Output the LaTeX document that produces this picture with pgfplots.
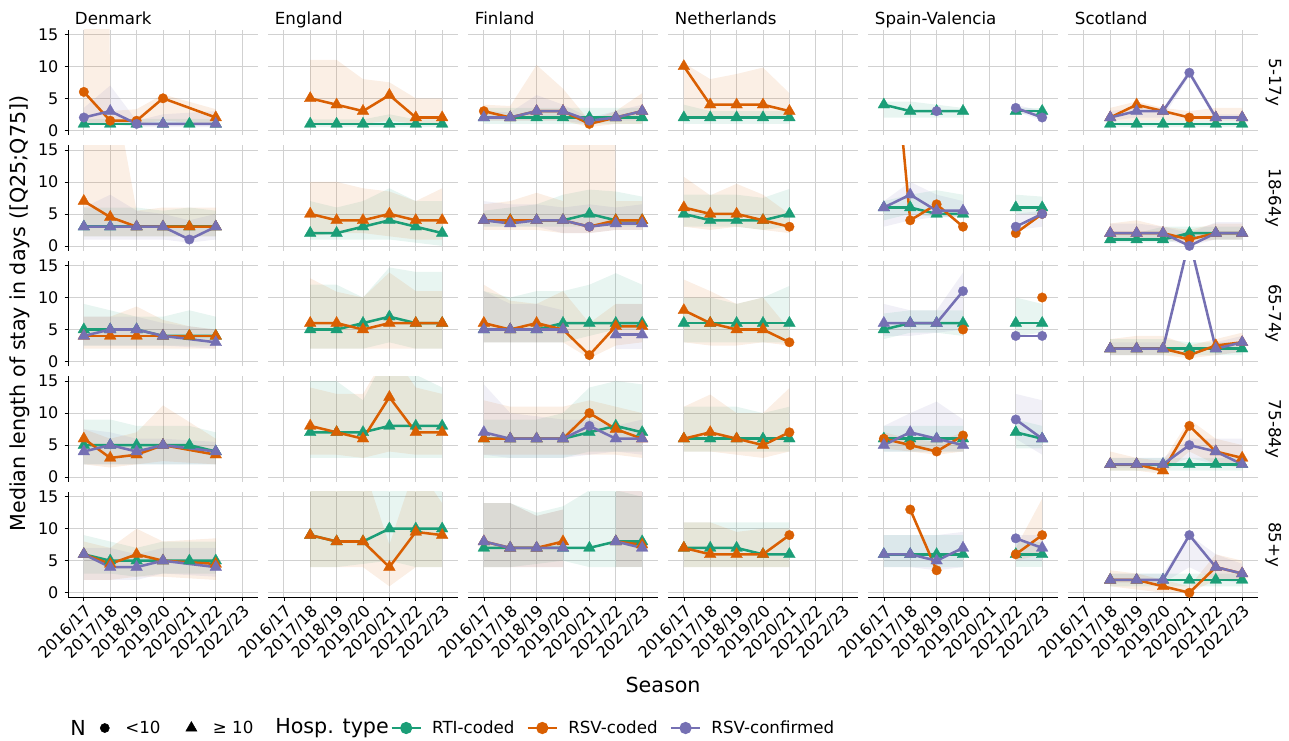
\documentclass[border=0pt]{standalone}
\usepackage{fontspec}
\setmainfont{DejaVu Sans}
\usepackage{pgfplots}
\pgfplotsset{compat=1.18}
\definecolor{rti}{HTML}{1B9E77}
\definecolor{rsv}{HTML}{D95F02}
\definecolor{cnf}{HTML}{7570B3}
\definecolor{gridc}{gray}{0.82}
\newcommand\fsTick{\fontsize{12}{14}\selectfont}
\newcommand\fsStrip{\fontsize{12.5}{14}\selectfont}
\newcommand\fsTitle{\fontsize{15.5}{18}\selectfont}
\newcommand\fsLeg{\fontsize{12.5}{14}\selectfont}
\pgfplotsset{
 every axis title shift=0pt,
 ser/.style={color=#1, line width=1.9pt, line join=round, mark=*, forget plot,
   mark options={solid, line width=0.2pt}, scatter, scatter src=explicit symbolic,
   scatter/classes={c={mark=*, mark size=3.6pt, draw=#1, fill=#1}, t={mark=triangle*, mark size=5.1pt, draw=#1, fill=#1}}},
 panel/.style 2 args={at={(#1pt,#2pt)}, anchor=north west, scale only axis, width=142.5pt, height=79.2pt,
   xmin=0.4, xmax=7.6, ymin=-0.75, ymax=15.75, xtick={1,...,7}, ytick={0,5,10,15},
   xticklabels={}, yticklabels={}, grid=major, major grid style={draw=gridc, line width=0.6pt},
   axis x line*=bottom, axis y line*=left, axis line style={draw=none,-}, tick style={draw=none},
   tick align=outside, major tick length=2.5pt,
   title style={anchor=base west, at={(0,1)}, xshift=5pt, yshift=3.75pt, font=\fsStrip, inner sep=0pt}},
 lft/.style={y axis line style={draw=black, line width=0.5pt}, ytick style={draw=black, line width=0.5pt},
   yticklabels={0,5,10,15}, yticklabel style={font=\fsTick, inner sep=4.5pt}},
 bot/.style={x axis line style={draw=black, line width=0.5pt}, xtick style={draw=black, line width=0.5pt},
   xticklabels={2016/17,2017/18,2018/19,2019/20,2020/21,2021/22,2022/23},
   xticklabel style={font=\fsTick, rotate=45, anchor=north east, inner sep=1.5pt}},
 lkey/.style={color=#1, line width=1.9pt, legend image code/.code={\draw[##1] (0pt,0pt) -- (22pt,0pt); \fill[#1] (11pt,0pt) circle (3.6pt);}},
 legax/.style={anchor=west, hide axis, scale only axis, width=1pt, height=1pt, xmin=0, xmax=1, ymin=0, ymax=1, legend cell align=left},
}
\makeatletter
\gdef\sPend{}
% #1 colour, #2 list x/median/q25/q75/marker
\newcommand\Ser[2]{%
 \gdef\sFw{}\gdef\sBw{}\gdef\sLn{}%
 \foreach \xa/\ya/\la/\ha/\ma in {#2}{\xdef\sFw{\sFw(\xa,\ha)}\xdef\sBw{(\xa,\la)\sBw}\xdef\sLn{\sLn(\xa,\ya)[\ma]}}%
 \edef\sTmp{\noexpand\addplot[fill=#1, fill opacity=0.1, draw=none, forget plot] coordinates {\sFw\sBw};}\sTmp
 \edef\sTmpb{\noexpand\addplot[ser=#1] coordinates {\sLn};}%
 \expandafter\g@addto@macro\expandafter\sPend\expandafter{\sTmpb}%
}
\newcommand\Flush{\sPend\gdef\sPend{}}
\makeatother
\begin{document}
\begin{tikzpicture}
\useasboundingbox (0,0) rectangle (966.75pt,-555pt);
% ================= Row 1: 5-17y
\begin{axis}[panel={51}{-22.125}, lft, title=Denmark]
\Ser{rti}{1/1/0.8/1.8/t, 2/1/0.8/1.8/t, 3/1/0.8/1.8/t, 4/1/0.8/1.8/t, 5/1/0.8/1.8/t, 6/1/0.8/1.8/t}
\Ser{rsv}{1/6/1/500/c, 2/1.5/1/3/c, 3/1.5/1/3.3/c, 4/5/1.5/5.6/c, 6/2/1/3.3/t}
\Ser{cnf}{1/2/1/3.5/c, 2/3/1/7/t, 3/1/0.5/1.5/c, 4/1/0.5/2.5/t, 6/1/0.5/3/t}
\Flush
\end{axis}
\begin{axis}[panel={201}{-22.125}, title=England]
\Ser{rti}{2/1/0.5/1.7/t, 3/1/0.5/1.7/t, 4/1/0.5/1.7/t, 5/1/0.5/2.5/t, 6/1/0.5/1.7/t, 7/1/0.5/1.7/t}
\Ser{rsv}{2/5/1/11/t, 3/4/1/11/t, 4/3/1/8/t, 5/5.5/1.5/7.5/t, 6/2/1/5/t, 7/2/1/5/t}
\Flush
\end{axis}
\begin{axis}[panel={351}{-22.125}, title=Finland]
\Ser{rti}{1/2/1/3.5/t, 2/2/1/3.5/t, 3/2/1/3.5/t, 4/2/1/3.5/t, 5/2/1/3.5/t, 6/2/1/3.5/t, 7/2/1/3.5/t}
\Ser{rsv}{1/3/1.5/4/c, 2/2/1.5/3.8/t, 3/3/1.5/10.2/t, 4/3/1.5/6.5/t, 5/1/0.5/1.5/c, 6/2/1/3/t, 7/3/1/5.8/t}
\Ser{cnf}{1/2/1.5/3/t, 2/2/1.5/2.8/t, 3/3/1.5/5.5/t, 4/3/1.5/4/t, 5/1.5/1/2/c, 6/2/1.5/3/t, 7/3/1.5/4/t}
\Flush
\end{axis}
\begin{axis}[panel={501}{-22.125}, title=Netherlands]
\Ser{rti}{1/2/1/4/t, 2/2/1/3/t, 3/2/1/3/t, 4/2/1/3/t, 5/2/1/3/t}
\Ser{rsv}{1/10/2/10.5/t, 2/4/2/8/t, 3/4/2/8.8/t, 4/4/2/9.8/t, 5/3/2/5.8/t}
\Flush
\end{axis}
\begin{axis}[panel={651}{-22.125}, title=Spain-Valencia]
\Ser{rti}{1/4/2/4.5/t, 2/3/2/4.5/t, 3/3/2/4/t, 4/3/2/3.5/t}
\Ser{rti}{6/3/2.5/3.5/t, 7/3/2.5/3.5/t}
\Ser{cnf}{3/3/3/3/c}
\Ser{cnf}{6/3.5/3/4/c, 7/2/1.5/3/c}
\Flush
\end{axis}
\begin{axis}[panel={801}{-22.125}, title=Scotland]
\Ser{rti}{2/1/0.5/1.5/t, 3/1/0.5/1.5/t, 4/1/0.5/1.5/t, 5/1/0.5/1.5/t, 6/1/0.5/1.5/t, 7/1/0.5/1.5/t}
\Ser{rsv}{2/2/1.5/3.5/t, 3/4/1.5/4.5/t, 4/3/1.5/3.5/t, 5/2/1.5/3/c, 6/2/1.5/3.5/t, 7/2/1.5/3.5/t}
\Ser{cnf}{2/2/1.5/3/t, 3/3/2/3.5/t, 4/3/2/3.5/t, 5/9/8.5/9.5/c, 6/2/1.5/2.5/t, 7/2/1.5/2.5/t}
\Flush
\end{axis}
% ================= Row 2: 18-64y
\begin{axis}[panel={51}{-108.825}, lft]
\Ser{rti}{1/3/1.5/6/t, 2/3/1.5/6/t, 3/3/1.5/6/t, 4/3/1.5/5.5/t, 5/3/1.5/6/t, 6/3/1.5/5.5/t}
\Ser{rsv}{1/7/1.5/500/t, 2/4.5/1.5/28/t, 3/3/1.5/5.5/t, 4/3/1.5/6/t, 5/3/1.5/6/t, 6/3/1.5/6/t}
\Ser{cnf}{1/3/1/6/t, 2/3/1/8/t, 3/3/1/5.5/t, 4/3/1/5/t, 5/1/0.5/4/c, 6/3/1/5/t}
\Flush
\end{axis}
\begin{axis}[panel={201}{-108.825}]
\Ser{rti}{2/2/1/7/t, 3/2/1/6/t, 4/3/1/7/t, 5/4/1/9/t, 6/3/0.5/7/t, 7/2/0/7/t}
\Ser{rsv}{2/5/1.5/10/t, 3/4/2/10/t, 4/4/2/9/t, 5/5/1.5/8.5/t, 6/4/1/7/t, 7/4/1/9/t}
\Flush
\end{axis}
\begin{axis}[panel={351}{-108.825}]
\Ser{rti}{1/4/3/5.5/t, 2/4/3/6/t, 3/4/3/6.5/t, 4/4/3/8/t, 5/5/3/8.8/t, 6/4/3/8.5/t, 7/4/3/7.7/t}
\Ser{rsv}{1/4/2.5/6.5/t, 2/4/2.5/7/t, 3/4/2.5/8.3/t, 4/4/2/7/t, 5/3/2/500/c, 6/4/2.5/7/t, 7/4/2.5/7/t}
\Ser{cnf}{1/4/3/7/t, 2/3.5/3/6.5/t, 3/4/3/6.5/t, 4/4/2/6/t, 5/3/2/6.5/c, 6/3.5/2.5/6/t, 7/3.5/2.5/6.5/t}
\Flush
\end{axis}
\begin{axis}[panel={501}{-108.825}]
\Ser{rti}{1/5/3/8/t, 2/4/3/8/t, 3/4/3/8/t, 4/4/2.5/7.5/t, 5/5/3/8.9/t}
\Ser{rsv}{1/6/3/10.8/t, 2/5/2.5/7.9/t, 3/5/3/9.7/t, 4/4/2.5/8/t, 5/3/2/5/c}
\Flush
\end{axis}
\begin{axis}[panel={651}{-108.825}]
\Ser{rti}{1/6/4/7/t, 2/6/5/8/t, 3/5/4.5/8.7/t, 4/5/4.5/8/t}
\Ser{rti}{6/6/5/8/t, 7/6/5/7.7/t}
\Ser{rsv}{1/48/48/48/t, 2/4/4/4/c, 3/6.5/6.5/6.5/c, 4/3/3/3/c}
\Ser{rsv}{6/2/2/2/c, 7/5/5/5/c}
\Ser{cnf}{1/6/3/7/t, 2/8/4/10/t, 3/5.5/4.5/8/t, 4/5.5/4.5/7/t}
\Ser{cnf}{6/3/2.5/5/c, 7/5/3/5.5/c}
\Flush
\end{axis}
\begin{axis}[panel={801}{-108.825}]
\Ser{rti}{2/1/0.5/2/t, 3/1/0.5/2/t, 4/1/0.5/3/t, 5/2/1/3/t, 6/2/1/3/t, 7/2/1/3/t}
\Ser{rsv}{2/2/1/3.5/t, 3/2/1/4/t, 4/2/1/3/t, 5/1/0.5/2.5/c, 6/2/1/3.5/t, 7/2/1/3.5/t}
\Ser{cnf}{2/2/1/3.5/t, 3/2/1/3.5/t, 4/2/1/3/t, 5/0/0/2/c, 6/2/1/3.7/t, 7/2/1/3.7/t}
\Flush
\end{axis}
% ================= Row 3: 65-74y
\begin{axis}[panel={51}{-195.525}, lft]
\Ser{rti}{1/5/2.5/9/t, 2/5/2.5/8/t, 3/5/2.5/7/t, 4/4/2.5/7/t, 5/4/2.5/8/t, 6/4/2.5/7/t}
\Ser{rsv}{1/4/2/7/t, 2/4/2/7/t, 3/4/2/8.6/t, 4/4/2/6.5/t, 5/4/2/5.5/t, 6/4/2/5/t}
\Ser{cnf}{1/4/2.5/7/t, 2/5/2.5/7/t, 3/5/2.5/7/t, 4/4/2.5/6/t, 6/3/2/5/t}
\Flush
\end{axis}
\begin{axis}[panel={201}{-195.525}]
\Ser{rti}{2/5/2/12/t, 3/5/2/12/t, 4/6/2/10/t, 5/7/3/14.7/t, 6/6/2/14/t, 7/6/2/14/t}
\Ser{rsv}{2/6/2/13/t, 3/6/2/10.9/t, 4/5/2/10/t, 5/6/2/13.9/t, 6/6/2/11/t, 7/6/2/11/t}
\Flush
\end{axis}
\begin{axis}[panel={351}{-195.525}]
\Ser{rti}{1/5/3/11/t, 2/5/3/10/t, 3/5/3/11/t, 4/6/3/11/t, 5/6/4/12/t, 6/6/5/13.8/t, 7/6/5/12/t}
\Ser{rsv}{1/6/3/12/t, 2/5/3/9.5/t, 3/6/3/9/t, 4/5/3/11/t, 5/1/0.5/6/c, 6/5.5/2.5/9/t, 7/5.5/3/9/t}
\Ser{cnf}{1/5/3/11/t, 2/5/3/9/t, 3/5/3/9/t, 4/5/3/8/t}
\Ser{cnf}{6/4.2/2/9/t, 7/4.2/2/9/t}
\Flush
\end{axis}
\begin{axis}[panel={501}{-195.525}]
\Ser{rti}{1/6/3/10/t, 2/6/3/10/t, 3/6/3/9/t, 4/6/3/10/t, 5/6/3/11.8/t}
\Ser{rsv}{1/8/3/12.8/t, 2/6/2.5/11/t, 3/5/2.5/9/t, 4/5/3/10/t, 5/3/2.5/5/c}
\Flush
\end{axis}
\begin{axis}[panel={651}{-195.525}]
\Ser{rti}{1/5/3.5/7.5/t, 2/6/4.5/8/t, 3/6/4.5/8/t, 4/6/4/8/t}
\Ser{rti}{6/6/4/10/t, 7/6/4.5/9/t}
\Ser{rsv}{4/5/5/5/c}
\Ser{rsv}{7/10/10/10/c}
\Ser{cnf}{1/6/4/9/t, 2/6/4/8/t, 3/6/4.5/8/t, 4/11/5/13.9/c}
\Ser{cnf}{6/4/4/4/c, 7/4/4/4/c}
\Flush
\end{axis}
\begin{axis}[panel={801}{-195.525}]
\Ser{rti}{2/2/1/3.5/t, 3/2/1/3.5/t, 4/2/1/3.5/t, 5/2/1/3/t, 6/2/1/3/t, 7/2/1/3/t}
\Ser{rsv}{2/2/1/3.5/t, 3/2/1/4/t, 4/2/1/4/t, 5/1/0.5/2.5/c, 6/2.5/1/3.5/t, 7/3/1.5/4.5/t}
\Ser{cnf}{2/2/1/3/t, 3/2/1/3/t, 4/2/1/3/t, 5/19/19/19/c, 6/2/1/3/t, 7/3/1.5/4/t}
\Flush
\end{axis}
% ================= Row 4: 75-84y
\begin{axis}[panel={51}{-282.225}, lft]
\Ser{rti}{1/5/2/9/t, 2/5/2/9/t, 3/5/2/8/t, 4/5/2/8/t, 5/5/2/8/t, 6/4/2/7/t}
\Ser{rsv}{1/6/2/7.5/t, 2/3/1.5/6/t, 3/3.5/2/7/t, 4/5/2.5/11.2/t, 6/3.5/2/6/t}
\Ser{cnf}{1/4/2/7.5/t, 2/5/2/7/t, 3/4/2/6/t, 4/5/2/6/t, 6/4/2/5.5/t}
\Flush
\end{axis}
\begin{axis}[panel={201}{-282.225}]
\Ser{rti}{2/7/3/15/t, 3/7/3/15/t, 4/7/3/12/t, 5/8/3/20/t, 6/8/3/16/t, 7/8/3/14/t}
\Ser{rsv}{2/8/3.5/14/t, 3/7/3.5/13/t, 4/6/3/13/t, 5/12.5/4/20/t, 6/7/3.5/14/t, 7/7/3.5/13/t}
\Flush
\end{axis}
\begin{axis}[panel={351}{-282.225}]
\Ser{rti}{1/6/3/9/t, 2/6/3/9/t, 3/6/3/9/t, 4/6/3/10/t, 5/7/4/14/t, 6/8/4/15/t, 7/7/4/14.5/t}
\Ser{rsv}{1/6/3.5/12/t, 2/6/3.5/11/t, 3/6/3.5/11/t, 4/6/3.5/11/t, 5/10/3.5/12/c, 6/7.5/3.5/11/t, 7/6/3/10/t}
\Ser{cnf}{1/7/3.5/14.5/t, 2/6/3/10/t, 3/6/3/9.5/t, 4/6/3/9/t, 5/8/3.5/9/c, 6/6/4/8/t, 7/6/3.5/9/t}
\Flush
\end{axis}
\begin{axis}[panel={501}{-282.225}]
\Ser{rti}{1/6/4/11/t, 2/6/4/11/t, 3/6/4/11/t, 4/6/4/10/t, 5/6/4/11/t}
\Ser{rsv}{1/6/4/11/t, 2/7/4/12.9/t, 3/6/3.5/10/t, 4/5/3/10/t, 5/7/4/13.9/c}
\Flush
\end{axis}
\begin{axis}[panel={651}{-282.225}]
\Ser{rti}{1/6/4/8/t, 2/6/4/8/t, 3/6/4/8/t, 4/6/4/8/t}
\Ser{rti}{6/7/4.5/9/t, 7/6/4.5/8/t}
\Ser{rsv}{1/6/4.5/7/c, 2/5/4/6/c, 3/4/3.5/5.5/c, 4/6.5/4/7/c}
\Ser{cnf}{1/5/4/8/t, 2/7/4/10/t, 3/6/4/11.8/t, 4/5/4/9/t}
\Ser{cnf}{6/9/6/13/c, 7/6/3.5/12/t}
\Flush
\end{axis}
\begin{axis}[panel={801}{-282.225}]
\Ser{rti}{2/2/1/3/t, 3/2/1/3/t, 4/2/1/3/t, 5/2/1/3/t, 6/2/1/3/t, 7/2/1/3/t}
\Ser{rsv}{2/2/1/4/t, 3/2/1/3/t, 4/1/0.5/2.5/t, 5/8/4/9/c, 6/4/2/6/t, 7/3/1.5/5/t}
\Ser{cnf}{2/2/1.5/3/t, 3/2/1.5/3/t, 4/2/1.5/3/t, 5/5/3/6/c, 6/4/2/6/t, 7/2/1.5/6/t}
\Flush
\end{axis}
% ================= Row 5: 85+y
\begin{axis}[panel={51}{-368.925}, lft, bot]
\Ser{rti}{1/6/3/9/t, 2/5/3/8/t, 3/5/2.5/7/t, 4/5/3/8/t, 5/5/3/8/t, 6/5/3/8/t}
\Ser{rsv}{1/6/2/8/t, 2/4.5/2/7/t, 3/6/2.5/10/t, 4/5/2.5/8/t, 6/4.5/2/8.5/t}
\Ser{cnf}{1/6/2/7/t, 2/4/2/7/t, 3/4/2/6/t, 4/5/3/7/t, 6/4/2.5/7/t}
\Flush
\end{axis}
\begin{axis}[panel={201}{-368.925}, bot]
\Ser{rti}{2/9/4/20/t, 3/8/4/20/t, 4/8/4.5/20/t, 5/10/5/20/t, 6/10/4/20/t, 7/10/4/20/t}
\Ser{rsv}{2/9/4/20/t, 3/8/4/20/t, 4/8/4/20/t, 5/4/1/7.5/t, 6/9.5/4/20/t, 7/9/4/14/t}
\Flush
\end{axis}
\begin{axis}[panel={351}{-368.925}, bot]
\Ser{rti}{1/7/4/14/t, 2/7/4/14/t, 3/7/4.5/12.5/t, 4/7/5/13.5/t, 5/7/4/16/t, 6/8/4/16/t, 7/8/4/15/t}
\Ser{rsv}{1/8/4/14/t, 2/7/4/14/t, 3/7/4/12/t, 4/8/4/13/t}
\Ser{rsv}{6/8/4/16/t, 7/7.5/4/16/t}
\Ser{cnf}{1/8/4/14/t, 2/7/4/14/t, 3/7/4/12/t, 4/7/4/13/t}
\Ser{cnf}{6/8/4/16/t, 7/7/4/16/t}
\Flush
\end{axis}
\begin{axis}[panel={501}{-368.925}, bot]
\Ser{rti}{1/7/4/11/t, 2/7/4/11/t, 3/7/4/11/t, 4/6/4/11/t, 5/6/4/11/t}
\Ser{rsv}{1/7/4/11/t, 2/6/4/11/t, 3/6/4/9.5/t, 4/6/4/10/t, 5/9/4/10/c}
\Flush
\end{axis}
\begin{axis}[panel={651}{-368.925}, bot]
\Ser{rti}{1/6/4/9/t, 2/6/4/9/t, 3/6/4/9/t, 4/6/4/9/t}
\Ser{rti}{6/6/4/8/t, 7/6/4/8/t}
\Ser{rsv}{2/13/13/13/c, 3/3.5/3.5/3.5/c}
\Ser{rsv}{6/6/5/7/c, 7/9/6/14.7/c}
\Ser{cnf}{1/6/4/9/t, 2/6/4/9/t, 3/5/3.5/9/t, 4/7/4/9.5/t}
\Ser{cnf}{6/8.5/5/9/c, 7/7/5/9/t}
\Flush
\end{axis}
\begin{axis}[panel={801}{-368.925}, bot]
\Ser{rti}{2/2/1/3/t, 3/2/1/3/t, 4/2/1/3/t, 5/2/1/3/t, 6/2/1/3/t, 7/2/1/3/t}
\Ser{rsv}{2/2/1/3.5/t, 3/2/0.5/3/t, 4/1/0/2/t, 5/0/0/1/c, 6/4/2/6/t, 7/3/2/5/t}
\Ser{cnf}{2/2/1.5/3/t, 3/2/1.5/3/t, 4/2/1.5/3/t, 5/9/4/9/c, 6/4/2/6/t, 7/3/1.5/4.5/t}
\Flush
\end{axis}
% ================= strip labels, axis titles
\foreach \lab/\yy in {5-17y/61.7, 18-64y/148.4, 65-74y/235.1, 75-84y/321.8, 85+y/408.5}
  \node[rotate=-90, font=\fsStrip, inner sep=0pt] at (955pt,-\yy pt) {\lab};
\node[rotate=90, font=\fsTitle, inner sep=0pt] at (15pt,-235.1pt) {Median length of stay in days ([Q25;Q75])};
\node[font=\fsTitle, inner sep=0pt] at (497.25pt,-513.75pt) {Season};
% ================= legend
\node[font=\fsTitle, anchor=west, inner sep=0pt] at (52.5pt,-546pt) {N};
\begin{axis}[legax, at={(75pt,-546pt)},
  legend style={at={(0,0.5)}, anchor=west, draw=none, fill=none, inner sep=0pt, legend columns=-1, font=\fsLeg,
    nodes={inner sep=0pt}, /tikz/every odd column/.append style={column sep=12pt},
    /tikz/every even column/.append style={column sep=19pt}}]
\addplot[draw=none, forget plot] coordinates {(0,0)};
\addlegendimage{only marks, mark=*, black, mark size=3.4pt}\addlegendentry{<10}
\addlegendimage{only marks, mark=triangle*, black, mark size=4.8pt}\addlegendentry{≥ 10}
\end{axis}
\node[font=\fsTitle, anchor=west, inner sep=0pt] at (206.25pt,-546pt) {Hosp. type};
\begin{axis}[legax, at={(292.5pt,-546pt)},
  legend style={at={(0,0.5)}, anchor=west, draw=none, fill=none, inner sep=0pt, legend columns=-1, font=\fsLeg,
    nodes={inner sep=0pt}, /tikz/every odd column/.append style={column sep=7.5pt},
    /tikz/every even column/.append style={column sep=9pt}}]
\addplot[draw=none, forget plot] coordinates {(0,0)};
\addlegendimage{lkey=rti}\addlegendentry{RTI-coded}
\addlegendimage{lkey=rsv}\addlegendentry{RSV-coded}
\addlegendimage{lkey=cnf}\addlegendentry{RSV-confirmed}
\end{axis}
\end{tikzpicture}
\end{document}
